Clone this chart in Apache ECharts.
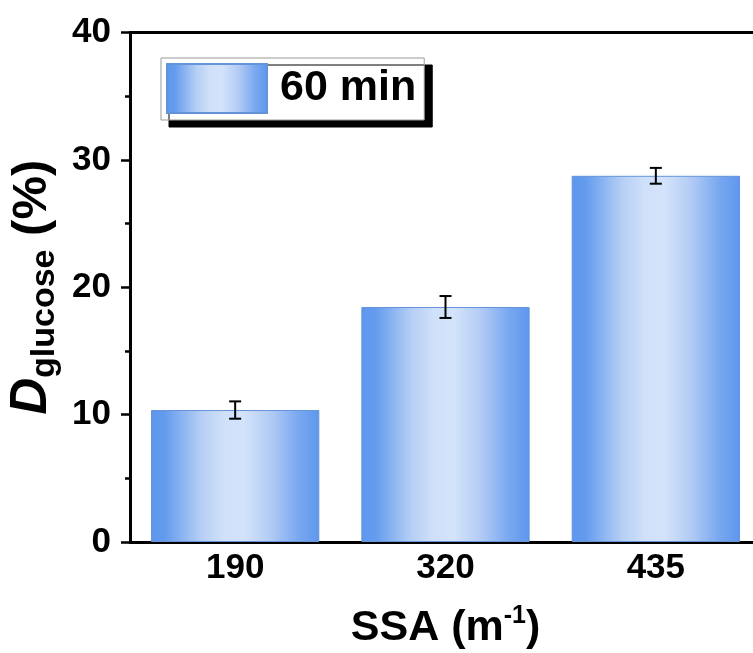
<!DOCTYPE html>
<html>
<head>
<meta charset="utf-8">
<script src="https://cdn.jsdelivr.net/npm/echarts@6/dist/echarts.min.js"></script>
<style>
html,body{margin:0;padding:0;background:#fff;}
#chart{width:753px;height:653px;}
</style>
</head>
<body>
<div id="chart"></div>
<script>
var categories = ['190', '320', '435'];
var means = [10.36, 18.45, 28.75];
var errors = [0.68, 0.86, 0.62];
var legendLabel = '60 min';
var yTicks = [0, 10, 20, 30, 40];

var FONT = '"Liberation Sans", Arial, sans-serif';

var barGradient = new echarts.graphic.LinearGradient(0, 0, 1, 0, [
  {offset: 0, color: '#5d97ee'},
  {offset: 0.08, color: '#639bee'},
  {offset: 0.3, color: '#b6cff5'},
  {offset: 0.43, color: '#cfe0f9'},
  {offset: 0.55, color: '#d3e3fa'},
  {offset: 0.7, color: '#b5cdf5'},
  {offset: 0.88, color: '#78a7f0'},
  {offset: 1, color: '#5d97ee'}
]);

var errData = categories.map(function (c, i) {
  return [i, means[i] - errors[i], means[i] + errors[i]];
});

var chart = echarts.init(document.getElementById('chart'), null, {renderer: 'canvas'});
chart.setOption({
  animation: false,
  backgroundColor: '#fff',
  grid: {left: 130, right: -8, top: 32.5, bottom: 111, containLabel: false, outerBoundsMode: 'none'},
  legend: {
    show: true,
    data: [legendLabel],
    left: 161,
    top: 58,
    orient: 'horizontal',
    padding: [5, 8, 6, 5],
    itemWidth: 100,
    itemHeight: 49,
    icon: 'rect',
    backgroundColor: '#fff',
    borderColor: '#999',
    borderWidth: 1,
    borderRadius: 0,
    shadowColor: '#000',
    shadowBlur: 0,
    shadowOffsetX: 8,
    shadowOffsetY: 7,
    textStyle: {fontFamily: FONT, fontWeight: 'bold', fontSize: 43, color: '#000', padding: [0, 0, 0, 8]}
  },
  xAxis: [{
    type: 'category',
    data: categories,
    position: 'bottom',
    axisLine: {show: true, onZero: false, lineStyle: {color: '#000', width: 3}},
    axisTick: {show: false},
    axisLabel: {fontFamily: FONT, fontWeight: 'bold', fontSize: 35, color: '#000', margin: 9},
    name: '{a|SSA (m}{sup|-1}{a|)}',
    nameLocation: 'middle',
    nameGap: 62,
    nameTextStyle: {
      rich: {
        a: {fontFamily: FONT, fontWeight: 'bold', fontSize: 43, color: '#000', lineHeight: 46, verticalAlign: 'bottom'},
        sup: {fontFamily: FONT, fontWeight: 'bold', fontSize: 25, color: '#000', lineHeight: 30, verticalAlign: 'top'}
      }
    }
  }, {
    type: 'category',
    data: categories,
    position: 'top',
    axisLine: {show: true, onZero: false, lineStyle: {color: '#000', width: 3}},
    axisTick: {show: false},
    axisLabel: {show: false}
  }],
  yAxis: {
    type: 'value',
    min: 0,
    max: 40,
    interval: 10,
    axisLine: {show: true, onZero: false, lineStyle: {color: '#000', width: 3}},
    axisTick: {show: true, inside: false, length: 9, lineStyle: {color: '#000', width: 2.5}},
    minorTick: {show: true, splitNumber: 2, length: 5, lineStyle: {color: '#000', width: 2.5}},
    splitLine: {show: false},
    axisLabel: {fontFamily: FONT, fontWeight: 'bold', fontSize: 35, color: '#000', margin: 19},
    name: '{d|D}{s|glucose}{n| (%)}',
    nameLocation: 'middle',
    nameRotate: 90,
    nameGap: 61,
    nameTextStyle: {
      rich: {
        d: {fontFamily: FONT, fontWeight: 'bold', fontStyle: 'italic', fontSize: 51, color: '#000', lineHeight: 58, verticalAlign: 'middle'},
        s: {fontFamily: FONT, fontWeight: 'bold', fontSize: 34, color: '#000', lineHeight: 34, verticalAlign: 'bottom'},
        n: {fontFamily: FONT, fontWeight: 'bold', fontSize: 49, color: '#000', lineHeight: 58, verticalAlign: 'middle'}
      }
    }
  },
  series: [{
    name: legendLabel,
    type: 'bar',
    data: means,
    barCategoryGap: '20%',
    itemStyle: {color: barGradient, borderColor: '#6593d8', borderWidth: 1},
    z: 2
  }, {
    name: 'err',
    type: 'custom',
    data: errData,
    encode: {x: 0, y: [1, 2]},
    z: 5,
    renderItem: function (params, api) {
      var x = api.value(0);
      var lo = api.coord([x, api.value(1)]);
      var hi = api.coord([x, api.value(2)]);
      var hw = 6;
      var st = {stroke: '#000', lineWidth: 2};
      return {
        type: 'group',
        children: [
          {type: 'line', shape: {x1: lo[0], y1: lo[1], x2: hi[0], y2: hi[1]}, style: st},
          {type: 'line', shape: {x1: lo[0] - hw, y1: lo[1], x2: lo[0] + hw, y2: lo[1]}, style: st},
          {type: 'line', shape: {x1: hi[0] - hw, y1: hi[1], x2: hi[0] + hw, y2: hi[1]}, style: st}
        ]
      };
    }
  }]
});
</script>
</body>
</html>
